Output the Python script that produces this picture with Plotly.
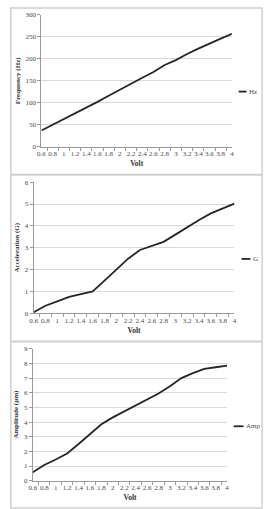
import plotly.graph_objects as go

W, H = 269, 509

volt = ["0.6", "0.8", "1", "1.2", "1.4", "1.6", "1.8", "2", "2.2", "2.4",
        "2.6", "2.8", "3", "3.2", "3.4", "3.6", "3.8", "4"]
hz = [37, 50, 62, 75, 88, 102, 116, 130, 144, 157, 170, 186, 197, 211, 223, 235, 246, 257]
g = [0.05, 0.35, 0.55, 0.75, 0.88, 1.0, 1.5, 2.0, 2.5, 2.9, 3.1, 3.27, 3.6, 3.95, 4.27, 4.57, 4.8, 5.02]
amp = [0.58, 1.07, 1.45, 1.86, 2.5, 3.2, 3.85, 4.32, 4.74, 5.15, 5.55, 5.95, 6.45, 7.0, 7.34, 7.63, 7.74, 7.85]

series = [
    ("Hz", hz, "Frequency (Hz)", [0, 300], 50),
    ("G", g, "Acceleration (G)", [0, 6], 1),
    ("Amp", amp, "Amplitude (µm)", [0, 9], 1),
]

def px(x):
    return x / W

def py(y):
    return 1 - y / H

# plot areas in pixels: (x0, x1, ytop, ybottom)
areas = [(38.3, 233.1, 11, 145), (30.3, 235.7, 181, 314.3), (29.5, 228.2, 350.3, 484.3)]
legend_pos = [(240, 248, 89), (243, 252, 259), (235, 245, 429)]

FONT = "Liberation Serif"
TXT = "#4a4a4a"
fig = go.Figure()
layout = dict(width=W, height=H, margin=dict(l=0, r=0, t=0, b=0),
              paper_bgcolor="white", plot_bgcolor="white", showlegend=False,
              font=dict(family=FONT, size=7, color=TXT))
shapes = []
annotations = []

for i, (name, vals, ytitle, yr, dt) in enumerate(series):
    n = "" if i == 0 else str(i + 1)
    x0, x1, yt, yb = areas[i]
    fig.add_trace(go.Scatter(x=volt, y=vals, mode="lines", name=name,
                             line=dict(color="#262626", width=1.8),
                             xaxis="x" + n, yaxis="y" + n))
    layout["xaxis" + n] = dict(
        domain=[px(x0), px(x1)], anchor="y" + n, type="category",
        tickson="boundaries", ticks="outside", ticklen=3, tickcolor="#9a9a9a",
        showline=True, linecolor="#9a9a9a", linewidth=1, showgrid=False,
        tickfont=dict(family=FONT, size=7, color=TXT), tickangle=0,
        title=dict(text="<b>Volt</b>", font=dict(family=FONT, size=7.5, color="#333"), standoff=3),
    )
    layout["yaxis" + n] = dict(
        domain=[py(yb), py(yt)], anchor="x" + n, range=yr, dtick=dt,
        ticks="outside", ticklen=3, tickcolor="#9a9a9a",
        showline=True, linecolor="#9a9a9a", linewidth=1,
        showgrid=True, gridcolor="#d9d9d9", gridwidth=1, zeroline=False,
        tickfont=dict(family=FONT, size=7, color=TXT),
        title=dict(text="<b>" + ytitle + "</b>", font=dict(family=FONT, size=7, color="#333"), standoff=4),
    )
    lx0, lx1, ly = legend_pos[i]
    shapes.append(dict(type="line", xref="paper", yref="paper",
                       x0=px(lx0), x1=px(lx1), y0=py(ly), y1=py(ly),
                       line=dict(color="#262626", width=1.8)))
    annotations.append(dict(text=name, xref="paper", yref="paper", x=px(lx1 + 0.5), y=py(ly),
                            xanchor="left", yanchor="middle", showarrow=False,
                            font=dict(family=FONT, size=7, color=TXT)))

# outer frame and dividers
frame = "#cfcfcf"
shapes.append(dict(type="rect", xref="paper", yref="paper", x0=px(7), x1=px(264),
                   y0=py(512), y1=py(4), line=dict(color=frame, width=1.5)))
for yy in (173.5, 343):
    shapes.append(dict(type="line", xref="paper", yref="paper", x0=px(7), x1=px(264),
                       y0=py(yy), y1=py(yy), line=dict(color=frame, width=2)))

layout["shapes"] = shapes
layout["annotations"] = annotations
fig.update_layout(**layout)
fig.write_html("out.html")
